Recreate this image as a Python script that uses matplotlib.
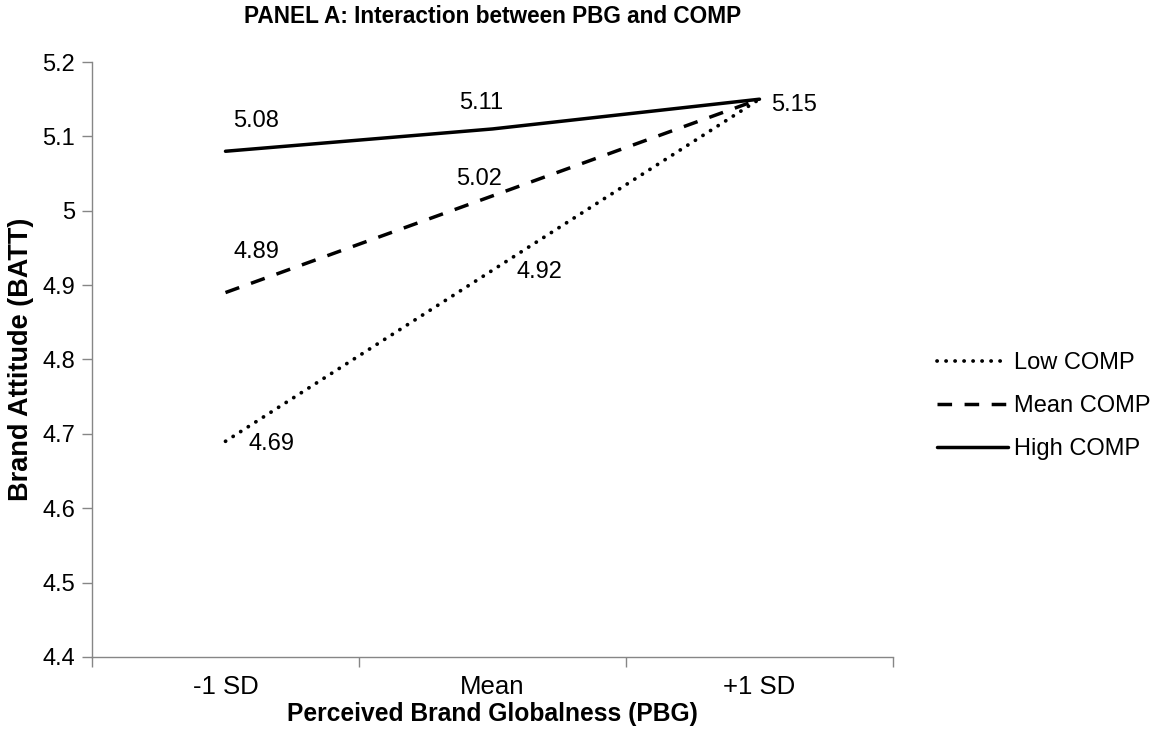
import matplotlib.pyplot as plt

plt.rcParams['font.family'] = ['Liberation Sans', 'DejaVu Sans']

categories = ['-1 SD', 'Mean', '+1 SD']
low_comp = [4.69, 4.92, 5.15]
mean_comp = [4.89, 5.02, 5.15]
high_comp = [5.08, 5.11, 5.15]
y_ticks = [4.4, 4.5, 4.6, 4.7, 4.8, 4.9, 5.0, 5.1, 5.2]
y_tick_labels = ['4.4', '4.5', '4.6', '4.7', '4.8', '4.9', '5', '5.1', '5.2']

fig = plt.figure(figsize=(11.5, 7.4), dpi=100)
ax = fig.add_axes([0.08, 0.1122, 0.6965, 0.804])

x = list(range(len(categories)))
ax.plot(x, low_comp, color='black', lw=2.7, linestyle=(0, (0.05, 2.35)),
        dash_capstyle='round', label='Low COMP')
ax.plot(x, mean_comp, color='black', lw=2.5, linestyle=(0, (4.2, 3.6)),
        label='Mean COMP')
ax.plot(x, high_comp, color='black', lw=2.5, solid_capstyle='round', label='High COMP')

# etiquetas de dados (offsets em pontos)
label_offsets = {
    'low': [(33, -2), (34, -1), (25, -4)],
    'mean': [(22, 29), (-10, 12), (25, -4)],
    'high': [(22, 22), (-8, 19), (25, -4)],
}
for key, vals in [('low', low_comp), ('mean', mean_comp), ('high', high_comp)]:
    for i, v in enumerate(vals):
        if key != 'high' and i == 2:
            continue
        dx, dy = label_offsets[key][i]
        ax.annotate(f'{v:.2f}', (i, v), xytext=(dx, dy), textcoords='offset points',
                    ha='center', va='center', fontsize=17)

ax.set_xlim(-0.5, 2.5)
ax.set_ylim(4.4, 5.2)
ax.set_yticks(y_ticks)
ax.set_yticklabels(y_tick_labels)
ax.set_xticks(x)
ax.set_xticklabels(categories)
ax.set_xticks([-0.5, 0.5, 1.5, 2.5], minor=True)
ax.tick_params(axis='x', which='major', length=0, pad=13, labelsize=18.5)
ax.tick_params(axis='x', which='minor', length=7, width=1, color='#868686')
ax.tick_params(axis='y', length=7, width=1, color='#868686', pad=5, labelsize=17)

for s in ['top', 'right']:
    ax.spines[s].set_visible(False)
for s in ['left', 'bottom']:
    ax.spines[s].set_color('#868686')
    ax.spines[s].set_linewidth(1)

ax.set_title('PANEL A: Interaction between PBG and COMP', fontsize=16.3,
             fontweight='bold', pad=28)
ax.set_xlabel('Perceived Brand Globalness (PBG)', fontsize=17.7, fontweight='bold', labelpad=2)
ax.set_ylabel('Brand Attitude (BATT)', fontsize=19.5, fontweight='bold', labelpad=6)

fig.legend(loc='center left', bbox_to_anchor=(0.7965, 0.451), frameon=False,
           fontsize=17, handlelength=3.0, handletextpad=0.25, labelspacing=0.88)

plt.savefig('out.png', dpi=100)
plt.close()
